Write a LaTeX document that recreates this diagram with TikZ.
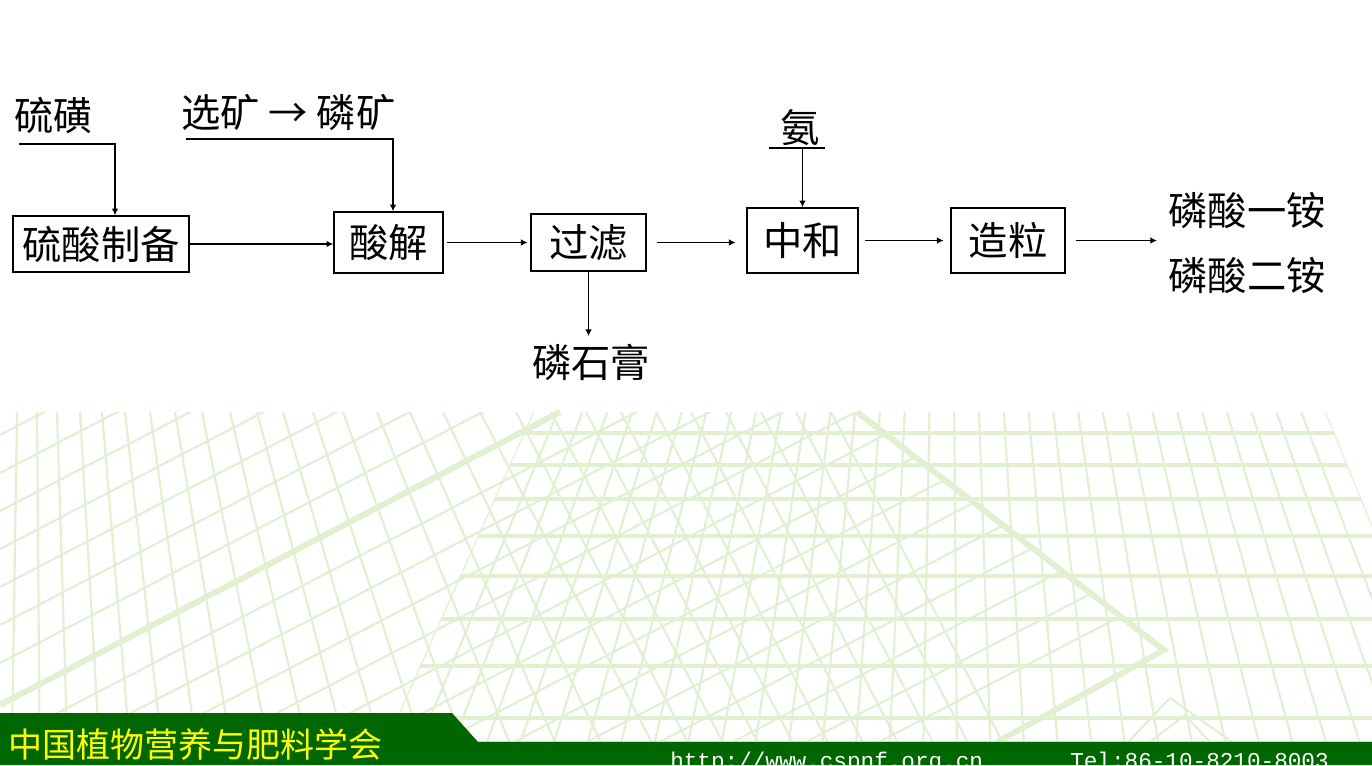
\documentclass[tikz,border=0pt]{standalone}
\usepackage{fontspec}
\setmainfont{Noto Sans CJK SC}
\newfontfamily\urlfont{Liberation Mono}
\usetikzlibrary{arrows.meta}
\definecolor{bggreen}{RGB}{226,240,210}
\definecolor{bargreen}{RGB}{0,102,0}
\definecolor{footyellow}{RGB}{255,255,0}
\tikzset{
  box/.style={draw=black, line width=1.15pt, inner sep=0pt, font=\fontsize{29.5pt}{32pt}\selectfont},
  lbl/.style={inner sep=0pt, font=\fontsize{29.5pt}{32pt}\selectfont},
  conn/.style={line width=1.05pt, -{Latex[length=5pt,width=5pt]}},
  plainline/.style={line width=1.05pt},
  bgline/.style={bggreen, line width=1.6pt},
  bghor/.style={bggreen, line width=2.8pt},
  bgthick/.style={bggreen, line width=4.5pt},
}
\begin{document}
\begin{tikzpicture}[x=0.75pt,y=-0.75pt]
\useasboundingbox (0,0) rectangle (1372,765);
\fill[white] (0,0) rectangle (1372,765);

% ---------- decorative background ----------
% right perspective grid
\begin{scope}
  \clip (533,412) -- (1326,412) -- (1372,525) -- (1372,742) -- (386,742) -- cycle;
  \foreach \yy in {433,465,499,536,576,619,666,718}
    \draw[bghor] (380,\yy) -- (1372,\yy);
  \foreach \i in {0,...,32} {
    \pgfmathsetmacro\xo{533+24.78*\i}
    \pgfmathsetmacro\xb{\xo+(\xo-947)/931*330}
    \draw[bgline] (\xo,412) -- (\xb,742);
  }
\end{scope}
% left / middle fan and diagonal lattice
\begin{scope}
  \clip (0,412) -- (857,412) -- (1164,650) -- (997,742) -- (0,742) -- cycle;
  \foreach \xo in {17,37,57,80,102,125,150,175,202,230,257,283,313,343,377,410,443,480,516,551,586,621,656,691,726,761,796,831} {
    \pgfmathsetmacro\lean{min(0.52,(\xo-30)/865)}
    \pgfmathsetmacro\xb{\xo+\lean*330}
    \draw[bgline] (\xo,412) -- (\xb,742);
  }
  \foreach \c in {435,473,511,549,587,625,663,743,781,819,857,895,933,971,1009,1047,1085,1123,1161,1199} {
    \draw[bgline] (0,\c) -- (1200,\c-624);
  }
\end{scope}
\draw[bgthick] (560,412) -- (0,705);
\draw[bgthick] (857,412) -- (1164,650) -- (997,742);
\draw[bgline] (1170,698) -- (1128,742);
\draw[bgline] (1170,698) -- (1232,742);
\draw[bgline] (1150,742) -- (1185,715) -- (1210,742);

% ---------- footer ----------
\fill[bargreen] (0,713) -- (452,713) -- (478,742) -- (1372,742) -- (1372,765) -- (0,765) -- cycle;
\draw[gray!35, line width=0.8pt] (478,741.5) -- (1372,741.5);
\node[font=\fontsize{25.5pt}{28pt}\selectfont, text=footyellow, anchor=west, inner sep=0pt] (org) at (8,745) {中国植物营养与肥料学会};
\node[font=\urlfont\fontsize{17pt}{20pt}\selectfont, text=white, anchor=base west, inner sep=0pt] (url) at (670,768) {http://www.cspnf.org.cn};
\node[font=\urlfont\fontsize{17pt}{20pt}\selectfont, text=white, anchor=base west, inner sep=0pt] (tel) at (1070,768) {Tel:86-10-8210-8003};

% ---------- process boxes ----------
\node[box, minimum width=132pt, minimum height=42pt] (b1) at (101,244) {硫酸制备};
\node[box, minimum width=81.75pt, minimum height=45.75pt] (b2) at (388.5,242.5) {酸解};
\node[box, minimum width=86.25pt, minimum height=42.75pt] (b3) at (588.5,242.5) {过滤};
\node[box, minimum width=83.25pt, minimum height=48.75pt] (b4) at (802.5,240.5) {中和};
\node[box, minimum width=85.5pt, minimum height=48.75pt] (b5) at (1008,240.5) {造粒};

% ---------- labels ----------
\node[lbl] (sulfur) at (54,115) {硫磺};
\node[lbl] (ore) at (288.5,113) {选矿 → 磷矿};
\node[lbl] (nh3) at (800,128) {氨};
\node[lbl] (gyp) at (591,362) {磷石膏};
\node[lbl] (map) at (1247,211) {磷酸一铵};
\node[lbl] (dap) at (1247,276) {磷酸二铵};

% ---------- connectors ----------
\coordinate (s0) at (19,144);
\coordinate (s1) at (115,144);
\draw[conn] (s0) -- (s1) -- (s1 |- b1.north);
\coordinate (o0) at (186,139);
\coordinate (o1) at (393,139);
\draw[conn] (o0) -- (o1) -- (o1 |- b2.north);
\coordinate (u0) at (769,148);
\coordinate (u1) at (825,148);
\draw[plainline] (u0) -- (u1);
\draw[conn] (b4.north |- u0) -- (b4.north);
\draw[conn] (b1.east) -- (b1.east -| b2.west);
\draw[conn, shorten <=2.5pt, shorten >=2pt] (b2.east) -- (b2.east -| b3.west);
\draw[conn, shorten <=7.5pt, shorten >=8pt] (b3.east) -- (b3.east -| b4.west);
\draw[conn, shorten <=4.5pt, shorten >=5pt] (b4.east) -- (b5.west);
\coordinate (out) at (1157,240.5);
\draw[conn, shorten <=7.5pt] (b5.east) -- (out);
\draw[conn, shorten >=5.5pt] (b3.south) -- (b3.south |- gyp.north);
\end{tikzpicture}
\end{document}
